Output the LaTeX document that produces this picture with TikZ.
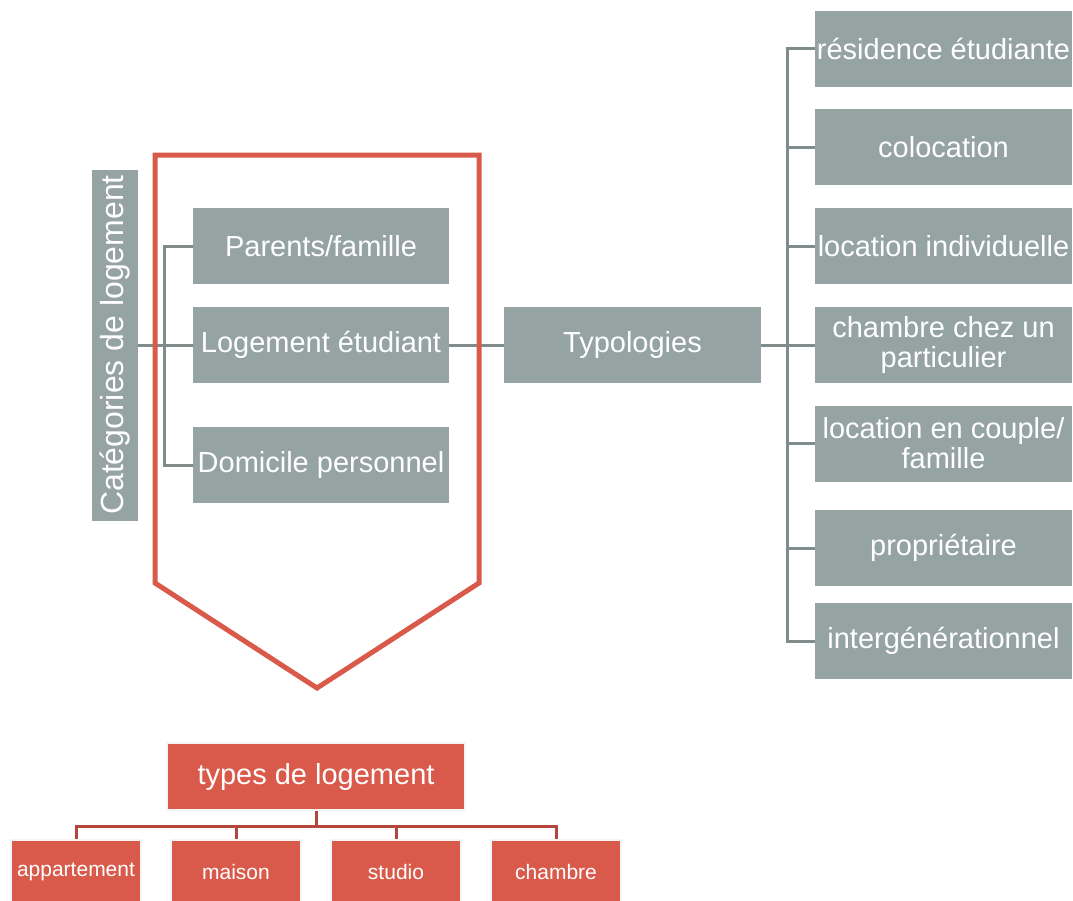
\documentclass[tikz,border=0pt]{standalone}
\usepackage{fontspec}
\setmainfont{Liberation Sans}
\usepackage{xcolor}
\usepackage{tikz}

\definecolor{boxgray}{HTML}{95A3A2}
\definecolor{boxred}{HTML}{D95A4A}
\definecolor{linegray}{HTML}{7F8C8B}
\definecolor{linered}{HTML}{B4463B}

\tikzset{
  graybox/.style={fill=boxgray, text=white, minimum width=256pt, minimum height=76pt,
    inner sep=1pt, align=center, font=\fontsize{29}{30}\selectfont},
  redbox/.style={fill=boxred, draw=black!4, line width=1.5pt, text=white,
    inner sep=1pt, align=center},
  graylink/.style={draw=linegray, line width=3pt},
  redlink/.style={draw=linered, line width=3pt},
}

\begin{document}
\begin{tikzpicture}[x=1pt, y=-1pt]
            \clip (0,0) rectangle (1073,900);

            % left column
            \node[graybox, rotate=90, minimum width=351pt, minimum height=46pt, inner sep=0pt,
              font=\fontsize{32}{34}\selectfont] (cat) at (115,345) {Catégories de logement};
            \node[graybox] (parents) at (321,246) {Parents/famille};
            \node[graybox] (etudiant) at (321,345) {Logement étudiant};
            \node[graybox] (domicile) at (321,465) {Domicile personnel};

            % middle
            \node[graybox, minimum width=257pt] (typo) at (632.5,345) {Typologies};

            % right column
            \node[graybox, minimum width=257pt] (t1) at (943.5,48.5) {résidence étudiante};
            \node[graybox, minimum width=257pt] (t2) at (943.5,147) {colocation};
            \node[graybox, minimum width=257pt] (t3) at (943.5,246) {location individuelle};
            \node[graybox, minimum width=257pt] (t4) at (943.5,345) {chambre chez un\\particulier};
            \node[graybox, minimum width=257pt] (t5) at (943.5,443.5) {location en couple/\\famille};
            \node[graybox, minimum width=257pt] (t6) at (943.5,548) {propriétaire};
            \node[graybox, minimum width=257pt] (t7) at (943.5,641) {intergénérationnel};

            % bottom tree
            \node[redbox, minimum width=298pt, minimum height=67pt,
              font=\fontsize{29}{30}\selectfont] (types) at (316,776.5) {types de logement};
            \node[redbox, minimum width=130pt, minimum height=64pt,
              font=\fontsize{21}{24}\selectfont] (appart) at (76,872) {appartement};
            \node[redbox, minimum width=130pt, minimum height=64pt,
              font=\fontsize{21}{24}\selectfont] (maison) at (236,872) {maison};
            \node[redbox, minimum width=130pt, minimum height=64pt,
              font=\fontsize{21}{24}\selectfont] (studio) at (396,872) {studio};
            \node[redbox, minimum width=130pt, minimum height=64pt,
              font=\fontsize{21}{24}\selectfont] (chambre) at (556,872) {chambre};

            \draw[graylink] (parents.west) -- ++(-28,0) |- (domicile.west); % bracket
            \draw[graylink] (cat.south) -- (etudiant.west); % cat-etudiant
            \draw[graylink] (etudiant.east) -- (typo.west); % etudiant-typo
            \draw[graylink] (typo.east) -- (t4.west); % typo-t4
            \draw[graylink] (t1.west) -- ++(-27,0) |- (t7.west); % right bracket
            \foreach \t in {t2,t3,t4,t5,t6}
              \draw[graylink] (\t.west) -- ++(-27,0);
            \foreach \b in {appart,maison,studio,chambre}
              \draw[redlink] (types.south) -- ++(0,16) -| (\b.north);

            % chevron
            \draw[boxred, line width=5pt] (155,155) -- (479,155) -- (479,583) -- (317,688)
              -- (155,583) -- cycle;
\end{tikzpicture}
\end{document}
